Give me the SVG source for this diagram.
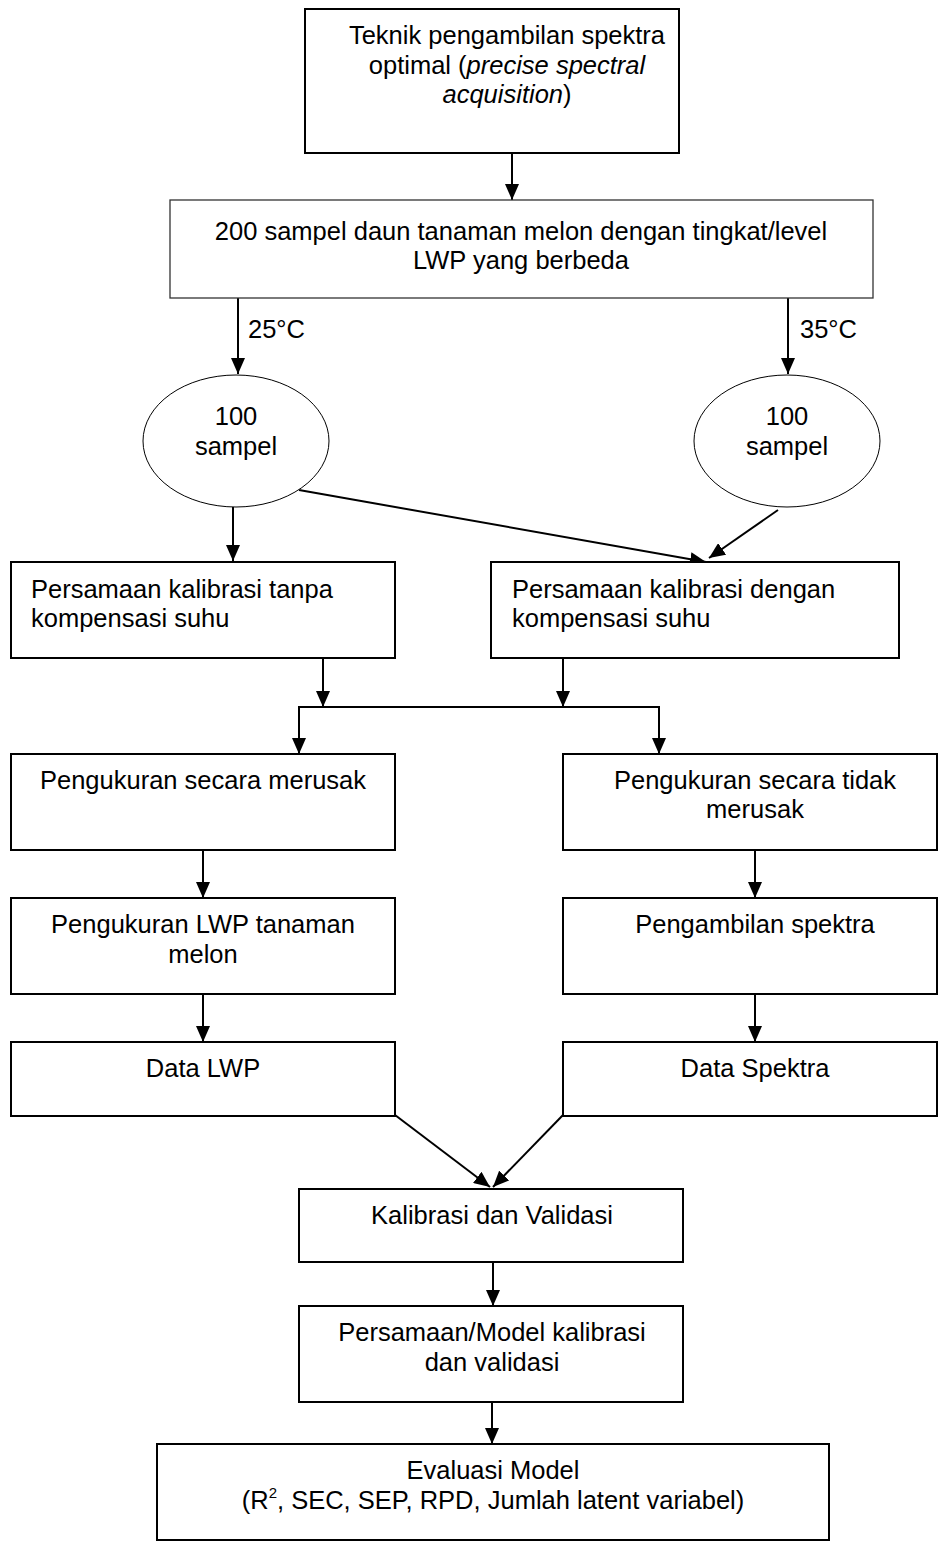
<svg xmlns="http://www.w3.org/2000/svg" width="938" height="1544" viewBox="0 0 938 1544">
<defs>
<marker id="ah" markerUnits="userSpaceOnUse" markerWidth="16" markerHeight="14" refX="16" refY="7" orient="auto">
<path d="M0,0 L16,7 L0,14 z" fill="#000"/>
</marker>
<style>
.box{fill:#fff;stroke:#000;stroke-width:2}
.thin{fill:#fff;stroke:#333;stroke-width:1.3}
.ell{fill:#fff;stroke:#000;stroke-width:1}
.t{font-family:"Liberation Sans",Arial,sans-serif;font-size:25.5px;fill:#000}
.c{text-anchor:middle}
.ln{fill:none;stroke:#000;stroke-width:2}
.ar{fill:none;stroke:#000;stroke-width:2;marker-end:url(#ah)}
</style>
</defs>
<rect width="938" height="1544" fill="#fff"/>

<g id="connectors">
<line class="ar" x1="512" y1="153" x2="512" y2="200"/>
<line class="ar" x1="238" y1="298" x2="238" y2="374"/>
<line class="ar" x1="788" y1="298" x2="788" y2="374"/>
<line class="ar" x1="233" y1="507" x2="233" y2="561"/>
<line class="ar" x1="299" y1="490" x2="706" y2="562"/>
<line class="ar" x1="778" y1="510" x2="709" y2="558"/>
<line class="ar" x1="323" y1="658" x2="323" y2="707"/>
<line class="ar" x1="563" y1="658" x2="563" y2="707"/>
<polyline class="ln" points="299,753 299,707 659,707 659,753"/>
<line class="ar" x1="299" y1="707" x2="299" y2="754"/>
<line class="ar" x1="659" y1="707" x2="659" y2="754"/>
<line class="ar" x1="203" y1="850" x2="203" y2="898"/>
<line class="ar" x1="755" y1="850" x2="755" y2="898"/>
<line class="ar" x1="203" y1="994" x2="203" y2="1042"/>
<line class="ar" x1="755" y1="994" x2="755" y2="1042"/>
<line class="ar" x1="395" y1="1115" x2="490" y2="1187"/>
<line class="ar" x1="563" y1="1115" x2="493" y2="1187"/>
<line class="ar" x1="493" y1="1262" x2="493" y2="1306"/>
<line class="ar" x1="492" y1="1402" x2="492" y2="1444"/>
<text class="t" x="248" y="338">25°C</text>
<text class="t" x="800" y="338">35°C</text>
</g>

<g id="n_teknik">
<rect class="box" x="305" y="9" width="374" height="144"/>
<text class="t c" x="507" y="44">Teknik pengambilan spektra</text>
<text class="t c" x="507" y="74">optimal (<tspan font-style="italic">precise spectral</tspan></text>
<text class="t c" x="507" y="103"><tspan font-style="italic">acquisition</tspan>)</text>
</g>

<g id="n_sampel200">
<rect class="thin" x="170" y="200" width="703" height="98"/>
<text class="t c" x="521" y="240">200 sampel daun tanaman melon dengan tingkat/level</text>
<text class="t c" x="521" y="269">LWP yang berbeda</text>
</g>

<g id="n_s25">
<ellipse class="ell" cx="236" cy="441" rx="93" ry="66"/>
<text class="t c" x="236" y="425">100</text>
<text class="t c" x="236" y="455">sampel</text>
</g>

<g id="n_s35">
<ellipse class="ell" cx="787" cy="441" rx="93" ry="66"/>
<text class="t c" x="787" y="425">100</text>
<text class="t c" x="787" y="455">sampel</text>
</g>

<g id="n_tanpa">
<rect class="box" x="11" y="562" width="384" height="96"/>
<text class="t" x="31" y="598">Persamaan kalibrasi tanpa</text>
<text class="t" x="31" y="627">kompensasi suhu</text>
</g>

<g id="n_dengan">
<rect class="box" x="491" y="562" width="408" height="96"/>
<text class="t" x="512" y="598">Persamaan kalibrasi dengan</text>
<text class="t" x="512" y="627">kompensasi suhu</text>
</g>

<g id="n_merusak">
<rect class="box" x="11" y="754" width="384" height="96"/>
<text class="t c" x="203" y="789">Pengukuran secara merusak</text>
</g>

<g id="n_tidak">
<rect class="box" x="563" y="754" width="374" height="96"/>
<text class="t c" x="755" y="789">Pengukuran secara tidak</text>
<text class="t c" x="755" y="818">merusak</text>
</g>

<g id="n_lwp">
<rect class="box" x="11" y="898" width="384" height="96"/>
<text class="t c" x="203" y="933">Pengukuran LWP tanaman</text>
<text class="t c" x="203" y="963">melon</text>
</g>

<g id="n_spektra">
<rect class="box" x="563" y="898" width="374" height="96"/>
<text class="t c" x="755" y="933">Pengambilan spektra</text>
</g>

<g id="n_datalwp">
<rect class="box" x="11" y="1042" width="384" height="74"/>
<text class="t c" x="203" y="1077">Data LWP</text>
</g>

<g id="n_dataspektra">
<rect class="box" x="563" y="1042" width="374" height="74"/>
<text class="t c" x="755" y="1077">Data Spektra</text>
</g>

<g id="n_kalval">
<rect class="box" x="299" y="1189" width="384" height="73"/>
<text class="t c" x="492" y="1224">Kalibrasi dan Validasi</text>
</g>

<g id="n_model">
<rect class="box" x="299" y="1306" width="384" height="96"/>
<text class="t c" x="492" y="1341">Persamaan/Model kalibrasi</text>
<text class="t c" x="492" y="1371">dan validasi</text>
</g>

<g id="n_eval">
<rect class="box" x="157" y="1444" width="672" height="96"/>
<text class="t c" x="493" y="1479">Evaluasi Model</text>
<text class="t c" x="493" y="1509">(R<tspan font-size="15" dy="-11">2</tspan><tspan dy="11">, SEC, SEP, RPD, Jumlah latent variabel)</tspan></text>
</g>
</svg>
